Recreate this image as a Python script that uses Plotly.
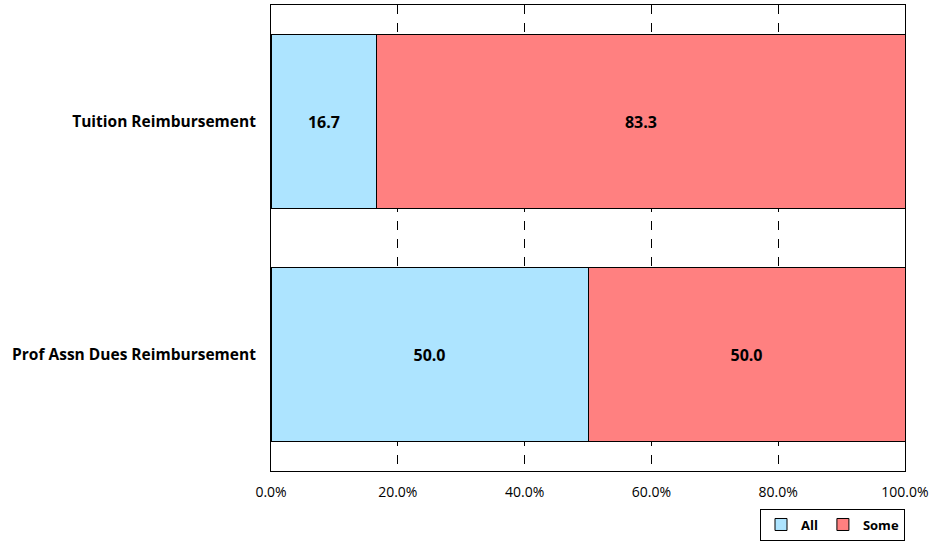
import plotly.graph_objects as go

categories = ["Tuition Reimbursement", "Prof Assn Dues Reimbursement"]
all_vals = [16.7, 50.0]
some_vals = [83.3, 50.0]
tick_vals = [0, 20, 40, 60, 80, 100]
tick_text = ["0.0%", "20.0%", "40.0%", "60.0%", "80.0%", "100.0%"]

FONT = "'Open Sans', Carlito, Calibri, sans-serif"

fig = go.Figure()
for name, vals, color in [("All", all_vals, "#ADE4FF"), ("Some", some_vals, "#FF8080")]:
    fig.add_trace(go.Bar(
        name=name,
        y=categories,
        x=vals,
        orientation="h",
        marker=dict(color=color, line=dict(color="black", width=1)),
        text=[f"{v:.1f}" for v in vals],
        textposition="inside",
        insidetextanchor="middle",
        textfont=dict(family=FONT, size=16, color="black", weight="bold"),
        hoverinfo="skip",
    ))

fig.update_layout(
    width=933,
    height=546,
    barmode="stack",
    bargap=0.25,
    plot_bgcolor="white",
    paper_bgcolor="white",
    margin=dict(l=271, r=28, t=5, b=75, autoexpand=False),
    font=dict(family=FONT, color="black"),
    legend=dict(
        orientation="h",
        traceorder="normal",
        x=1, xanchor="right", xref="paper",
        y=0.01, yanchor="bottom", yref="container",
        bordercolor="black", borderwidth=1,
        font=dict(family=FONT, size=13, weight="bold"),
        itemwidth=30,
    ),
    uniformtext=dict(minsize=10, mode="show"),
)
fig.update_xaxes(
    range=[0, 100],
    tickvals=tick_vals,
    ticktext=tick_text,
    showgrid=True,
    gridcolor="black",
    gridwidth=1,
    griddash="dash",
    showline=True,
    linecolor="black",
    linewidth=1,
    mirror=True,
    ticks="",
    ticklabelstandoff=8,
    tickfont=dict(family=FONT, size=14),
    zeroline=False,
)
fig.update_yaxes(
    categoryorder="array",
    categoryarray=categories[::-1],
    showline=True,
    linecolor="black",
    linewidth=1,
    mirror=True,
    ticks="",
    ticklabelstandoff=11,
    tickfont=dict(family=FONT, size=15.5, weight="bold"),
)

fig.write_html("out.html")
